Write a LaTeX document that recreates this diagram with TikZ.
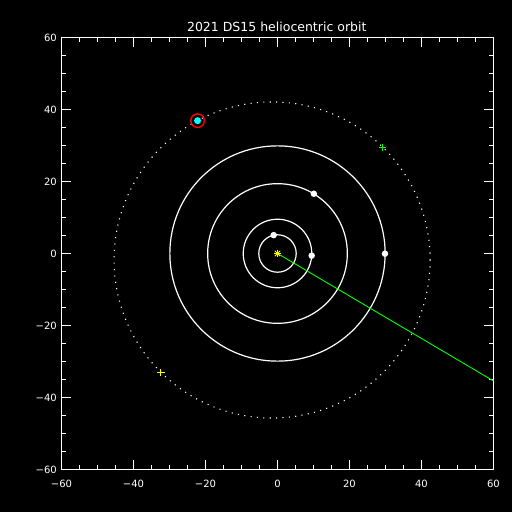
\documentclass[tikz,border=0pt]{standalone}
\usepackage{fontspec}
\setmainfont{DejaVu Sans}
\usetikzlibrary{positioning, calc}
\definecolor{hcGreen}{HTML}{00FF00}
\definecolor{hcYellow}{HTML}{FFFF00}
\definecolor{hcRed}{HTML}{FF0000}
\definecolor{hcCyan}{HTML}{00FFFF}
\tikzset{
  frame/.style={draw=white, line width=0.9pt},
  orbit/.style={draw=white, line width=1.2pt},
  dotorbit/.style={draw=white, line width=1.1pt, dash pattern=on 1.1pt off 5.3pt},
  planet/.style={circle, fill=white, inner sep=0pt, minimum size=6.5pt},
  ticklbl/.style={font=\fontsize{10}{10}\selectfont, text=white, inner sep=0pt},
  plus/.style={line width=1.1pt},
}

\begin{document}
\begin{tikzpicture}[
    x=3.6pt, y=3.6pt,
    title/.style={font=\fontsize{12.5}{12.5}\selectfont, text=white, inner sep=0pt, anchor=base},
  ]
  \fill[black] (-277.5pt,-258.5pt) rectangle (234.5pt,253.5pt);
  \useasboundingbox (-277.5pt,-258.5pt) rectangle (234.5pt,253.5pt);

  \node[title] (ttl) at (-0.2,61.6) {2021 DS15 heliocentric orbit};

  % axes box and ticks
  \draw[frame] (-60,-60) rectangle (60,60);
  \foreach \v in {-55,-50,...,55} {
    \draw[frame] (\v,-60) -- ++(0,5pt);
    \draw[frame] (\v,60) -- ++(0,-5pt);
    \draw[frame] (-60,\v) -- ++(5pt,0);
    \draw[frame] (60,\v) -- ++(-5pt,0);
  }
  \foreach \v/\t in {-60/−60, -40/−40, -20/−20, 0/0, 20/20, 40/40, 60/60} {
    \draw[frame] (\v,-60) -- ++(0,10pt);
    \draw[frame] (\v,60) -- ++(0,-10pt);
    \draw[frame] (-60,\v) -- ++(10pt,0);
    \draw[frame] (60,\v) -- ++(-10pt,0);
    \node[ticklbl, anchor=north] (xl\v) at ([yshift=-10.5pt]\v,-60) {\t};
    \node[ticklbl, anchor=east] (yl\v) at ([xshift=-4.5pt]-60,\v) {\t};
  }

  \node[inner sep=0pt] (sun) at (0,0) {};
  \coordinate (pcen) at (-1.5,-1.8);
  \coordinate (dirEnd) at (60,-35.4);

  \draw[dotorbit] (pcen) circle[radius=43.9];
  \foreach \r in {5.2, 9.52, 19.4, 29.9}
    \draw[orbit] (sun.center) circle[radius=\r];

  \draw[hcGreen, line width=0.9pt] (sun.center) -- (dirEnd);

  \node[planet] (jup) at (-1.06,5.1) {};
  \node[planet] (sat) at (9.5,-0.6) {};
  \node[planet] (ura) at (10.1,16.6) {};
  \node[planet] (nep) at (29.86,-0.05) {};

  \foreach \a in {0,45,90,135}
    \draw[hcYellow, line width=1pt] (sun.center) ++(\a:3.8pt) -- ++(\a+180:7.6pt);

  \node[circle, fill=hcCyan, inner sep=0pt, minimum size=7pt] (obj) at (-22.2,36.9) {};
  \node[circle, draw=hcRed, line width=1.4pt, inner sep=0pt, minimum size=13.6pt] (ring) at (obj) {};

  \foreach \n/\p/\col in {gp/{29.2,29.5}/hcGreen, yp/{-32.4,-33.0}/hcYellow} {
    \coordinate (\n) at (\p);
    \draw[plus, \col] ([xshift=-3.8pt]\n) -- ([xshift=3.8pt]\n);
    \draw[plus, \col] ([yshift=-3.8pt]\n) -- ([yshift=3.8pt]\n);
  }
\end{tikzpicture}
\end{document}
